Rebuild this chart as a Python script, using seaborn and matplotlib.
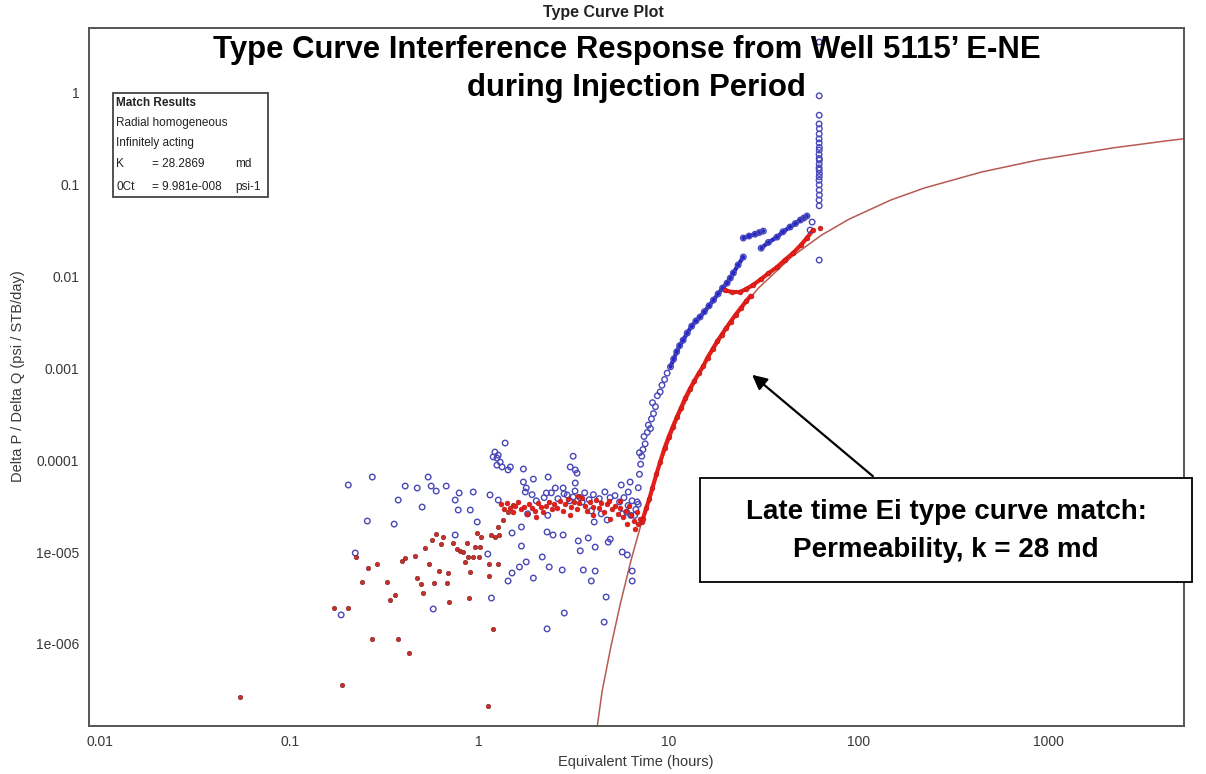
import matplotlib
matplotlib.use("Agg")
import matplotlib.pyplot as plt
from matplotlib.patches import Rectangle
import pandas as pd
import seaborn as sns

# ---------------------------------------------------------------- data
# Observed response, early scattered blue (open circles)
blue_early_t = [0.204, 0.273, 0.374, 0.407, 0.471, 0.538, 0.558, 0.593, 0.670, 0.500,
                0.257, 0.356, 0.222, 0.187, 0.572, 0.747, 0.784, 0.930, 0.775, 0.897,
                0.976, 1.14, 1.26, 0.747, 1.11]
blue_early_v = [5.35e-5, 6.53e-5, 3.67e-5, 5.21e-5, 4.96e-5, 6.53e-5, 5.21e-5, 4.6e-5, 5.21e-5, 3.08e-5,
                2.17e-5, 2.01e-5, 9.75e-6, 2.07e-6, 2.4e-6, 3.67e-5, 4.38e-5, 4.49e-5, 2.86e-5, 2.86e-5,
                2.12e-5, 4.17e-5, 3.67e-5, 1.53e-5, 9.5e-6]

# Blue points in the middle-time region
blue_mid_t = [1.37, 1.21, 1.26, 1.185, 1.24, 1.29, 1.24, 1.32, 1.42, 1.46,
              3.13, 3.02, 3.21, 3.28, 1.71, 1.93, 1.71, 1.77, 1.75, 2.31,
              2.26, 2.52, 2.77, 3.21, 2.91, 3.13, 3.49, 1.49, 1.67, 1.67,
              2.28, 2.45, 2.77, 3.33, 3.76, 4.09, 3.41, 2.15, 1.77, 1.63,
              1.49, 1.42, 1.93, 2.34, 2.74, 3.54, 4.09, 3.90, 1.16, 2.81,
              2.28, 4.67, 4.56, 6.41, 6.41, 4.91, 4.79, 5.68, 6.04, 4.04,
              4.73, 5.61, 6.25, 6.11,
              1.9, 2.0, 2.2, 2.4, 2.6, 2.8, 3.0, 3.2, 3.4, 3.6,
              3.8, 4.0, 4.3, 4.6, 4.9, 5.2, 5.5, 5.8, 6.1, 6.4,
              6.7, 6.9, 6.3, 6.0, 5.7, 4.4, 3.9, 2.3, 1.8]
blue_mid_v = [1.53e-4, 1.22e-4, 1.13e-4, 1.08e-4, 1.05e-4, 9.5e-5, 8.8e-5, 8.4e-5, 7.8e-5, 8.4e-5,
              1.1e-4, 8.4e-5, 7.8e-5, 7.2e-5, 7.98e-5, 6.2e-5, 5.76e-5, 4.96e-5, 4.49e-5, 6.53e-5,
              4.38e-5, 4.96e-5, 4.96e-5, 5.62e-5, 4.17e-5, 3.96e-5, 3.49e-5, 1.61e-5, 1.87e-5, 1.16e-5,
              1.65e-5, 1.53e-5, 1.53e-5, 1.32e-5, 1.42e-5, 1.13e-5, 1.03e-5, 8.83e-6, 7.8e-6, 6.87e-6,
              5.91e-6, 4.84e-6, 5.21e-6, 6.87e-6, 6.37e-6, 6.37e-6, 6.21e-6, 4.84e-6, 3.16e-6, 2.17e-6,
              1.46e-6, 3.24e-6, 1.73e-6, 6.21e-6, 4.84e-6, 1.38e-5, 1.28e-5, 1.0e-5, 9.3e-6, 2.12e-5,
              2.23e-5, 5.35e-5, 5.76e-5, 4.49e-5,
              4.2e-5, 3.6e-5, 3.9e-5, 4.4e-5, 3.8e-5, 4.3e-5, 3.6e-5, 4.6e-5, 3.9e-5, 4.4e-5,
              3.7e-5, 4.2e-5, 3.8e-5, 4.5e-5, 3.9e-5, 4.1e-5, 3.5e-5, 3.9e-5, 3.2e-5, 3.6e-5,
              2.9e-5, 3.3e-5, 2.5e-5, 2.7e-5, 2.6e-5, 2.6e-5, 2.8e-5, 2.5e-5, 2.6e-5]

# Blue build-up after the pressure front arrives
blue_rise_t = [6.6, 6.8, 6.9, 7.0, 7.1, 7.2, 7.3, 7.0, 7.5, 7.4,
               7.7, 7.8, 8.0, 8.1, 8.3, 8.5, 8.2, 8.7, 9.0, 9.2,
               9.5, 9.8, 10.2, 10.6, 11.0, 11.4, 11.9, 12.5, 13.2, 13.9,
               14.6, 15.4, 16.3, 17.2, 18.2, 19.2, 20.3, 21.1, 21.9, 23.2, 24.7]
blue_rise_v = [2.5e-5, 3.5e-5, 5e-5, 7e-5, 9e-5, 1.1e-4, 1.3e-4, 1.2e-4, 1.5e-4, 1.8e-4,
               2.0e-4, 2.4e-4, 2.2e-4, 2.8e-4, 3.2e-4, 3.8e-4, 4.2e-4, 5.0e-4, 5.5e-4, 6.5e-4,
               7.5e-4, 8.8e-4, 1.03e-3, 1.25e-3, 1.5e-3, 1.75e-3, 2.01e-3, 2.4e-3, 2.85e-3, 3.25e-3,
               3.58e-3, 4.1e-3, 4.75e-3, 5.48e-3, 6.4e-3, 7.4e-3, 8.4e-3, 9.5e-3, 0.0108, 0.0132, 0.0161]

# Short blue segments near the end of injection
blue_seg_a_t = [24.7, 26.5, 28.5, 30.0, 31.5]
blue_seg_a_v = [0.0259, 0.0272, 0.0285, 0.0297, 0.0308]
blue_seg_b_t = [30.7, 33.5, 37.2, 40.0, 43.6, 46.5, 49.4, 51.5, 53.5, 55.6, 57.0]
blue_seg_b_v = [0.0201, 0.0232, 0.0265, 0.0303, 0.0341, 0.0372, 0.0406, 0.0427, 0.0449, 0.0316, 0.0386]

# Blue column at shut-in
blue_col_t = [62.1, 62.1, 62.1, 62.0, 62.2, 62.1, 62.0, 62.1, 62.2, 62.1,
              62.0, 62.1, 62.2, 62.1, 62.0, 62.1, 62.2, 62.1, 62.0, 62.1,
              62.1, 62.2, 62.0, 62.1, 62.1]
blue_col_v = [3.5, 0.91, 0.56, 0.45, 0.40, 0.35, 0.31, 0.28, 0.25, 0.234,
              0.21, 0.19, 0.182, 0.165, 0.15, 0.142, 0.13, 0.12, 0.11, 0.098,
              0.086, 0.076, 0.067, 0.058, 0.0149]

# Red data (filled dots): early scatter
red_early_t = [0.225, 0.260, 0.290, 0.241, 0.327, 0.393, 0.407, 0.460, 0.519, 0.565,
               0.593, 0.631, 0.646, 0.545, 0.615, 0.686, 0.471, 0.494, 0.579, 0.678,
               0.340, 0.360, 0.507, 0.695, 0.172, 0.204, 0.273, 0.374, 0.428, 0.189,
               0.0549, 0.766, 0.794, 0.823, 0.729, 0.865, 0.952, 1.01, 0.976, 1.02,
               0.875, 0.93, 0.844, 0.897, 1.0, 1.13, 1.26, 1.13, 0.886, 1.185,
               1.115, 1.21, 1.26, 1.34, 1.41, 1.16, 1.27, 1.51]
red_early_v = [8.83e-6, 6.7e-6, 7.41e-6, 4.72e-6, 4.72e-6, 7.98e-6, 8.6e-6, 9.05e-6, 1.1e-5, 1.35e-5,
               1.57e-5, 1.22e-5, 1.46e-5, 7.41e-6, 6.21e-6, 5.91e-6, 5.21e-6, 4.49e-6, 4.6e-6, 4.6e-6,
               3.0e-6, 3.41e-6, 3.58e-6, 2.86e-6, 2.46e-6, 2.46e-6, 1.13e-6, 1.13e-6, 7.98e-7, 3.58e-7,
               2.65e-7, 1.08e-5, 1.03e-5, 1.0e-5, 1.25e-5, 1.25e-5, 1.13e-5, 1.13e-5, 1.61e-5, 1.46e-5,
               8.8e-6, 8.8e-6, 7.8e-6, 6.1e-6, 8.8e-6, 7.4e-6, 7.4e-6, 5.5e-6, 3.16e-6, 1.46e-6,
               2.12e-7, 1.46e-5, 1.87e-5, 2.23e-5, 2.72e-5, 1.53e-5, 1.53e-5, 3.24e-5]

# Red plateau band
red_plateau_t = [1.30, 1.35, 1.40, 1.45, 1.50, 1.55, 1.60, 1.66, 1.72, 1.78,
                 1.84, 1.90, 1.97, 2.04, 2.11, 2.18, 2.25, 2.33, 2.41, 2.49,
                 2.57, 2.66, 2.75, 2.85, 2.95, 3.05, 3.15, 3.26, 3.37, 3.48,
                 3.60, 3.72, 3.85, 3.98, 4.12, 4.26, 4.40, 4.55, 4.70, 4.86,
                 5.03, 5.20, 5.38, 5.56, 5.75, 5.94, 6.14, 6.35, 6.56, 6.78,
                 7.01, 7.25, 2.0, 3.0, 4.0, 4.9, 5.5, 6.0, 6.6, 6.9, 3.3]
red_plateau_v = [3.3e-5, 2.9e-5, 3.4e-5, 3.0e-5, 2.7e-5, 3.2e-5, 3.5e-5, 2.9e-5, 3.1e-5, 2.6e-5,
                 3.3e-5, 3.0e-5, 2.8e-5, 3.4e-5, 3.1e-5, 2.7e-5, 3.2e-5, 3.5e-5, 2.9e-5, 3.3e-5,
                 3.0e-5, 3.6e-5, 2.8e-5, 3.3e-5, 3.8e-5, 3.1e-5, 3.5e-5, 2.9e-5, 3.4e-5, 3.9e-5,
                 3.2e-5, 2.8e-5, 3.5e-5, 3.1e-5, 3.7e-5, 3.0e-5, 3.4e-5, 2.7e-5, 3.3e-5, 3.6e-5,
                 2.9e-5, 3.2e-5, 2.6e-5, 3.0e-5, 2.4e-5, 2.8e-5, 3.2e-5, 2.5e-5, 2.2e-5, 2.7e-5,
                 2.3e-5, 2.1e-5, 2.4e-5, 2.5e-5, 2.5e-5, 2.3e-5, 3.6e-5, 2.0e-5, 1.8e-5, 2.0e-5, 4.1e-5]

# Red late-time rise, lower branch and upper branch
red_rise_t = [7.3, 7.6, 7.9, 8.2, 8.6, 9.0, 9.5, 10.0, 10.5, 11.0,
              11.6, 12.2, 12.9, 13.6, 14.4, 15.2, 16.0, 17.0, 18.0, 19.0,
              20.0, 21.2, 22.5, 24.0, 25.5, 27.0]
red_rise_v = [2.3e-5, 3.0e-5, 3.8e-5, 5.0e-5, 7.0e-5, 9.5e-5, 1.35e-4, 1.8e-4, 2.3e-4, 2.9e-4,
              3.7e-4, 4.7e-4, 5.9e-4, 7.2e-4, 8.8e-4, 1.05e-3, 1.3e-3, 1.6e-3, 1.95e-3, 2.3e-3,
              2.7e-3, 3.2e-3, 3.8e-3, 4.5e-3, 5.3e-3, 6.1e-3]
red_upper_t = [19.8, 21.5, 23.7, 25.5, 27.8, 30.5, 33.5, 37.2, 41.0, 45.2, 49.5, 53.5, 57.6, 62.9]
red_upper_v = [7.0e-3, 6.7e-3, 6.7e-3, 7.2e-3, 8.0e-3, 9.2e-3, 0.0107, 0.0125, 0.0150, 0.0178, 0.0215, 0.0260, 0.0316, 0.0332]

# Line-source (Ei) type curve
curve_t = [4.2, 4.45, 4.94, 5.56, 6.36, 7.42, 8.9, 11.1, 14.8, 22.25,
           29.7, 44.5, 63.6, 89.0, 148.0, 222.5, 445.0, 890.0, 2225.0, 4450.0, 5235.0]
curve_v = [1.3e-7, 3.08e-7, 9.2e-7, 2.79e-6, 8.55e-6, 2.66e-5, 8.5e-5, 2.8e-4, 9.66e-4, 3.62e-3,
           7.4e-3, 0.0162, 0.0277, 0.0414, 0.067, 0.0905, 0.135, 0.183, 0.248, 0.299, 0.311]

x_ticks = [0.01, 0.1, 1, 10, 100, 1000]
x_tick_labels = ["0.01", "0.1", "1", "10", "100", "1000"]
y_ticks = [1e-6, 1e-5, 1e-4, 1e-3, 1e-2, 1e-1, 1]
y_tick_labels = ["1e-006", "1e-005", "0.0001", "0.001", "0.01", "0.1", "1"]

# ---------------------------------------------------------------- figure
sns.set_style("white")
plt.rcParams['font.family'] = ['Liberation Sans', 'DejaVu Sans']

W, H = 1206, 774
fig = plt.figure(figsize=(W / 100, H / 100), dpi=100)
fig.patch.set_facecolor("white")


def fx(px):
    return px / W


def fy(py):
    return 1 - py / H


ax = fig.add_axes([fx(89), fy(725.5), fx(1184 - 89), (725.5 - 28) / H])
ax.set_xscale("log")
ax.set_yscale("log")
ax.set_xlim(0.00875, 5212)
ax.set_ylim(1.3e-7, 4.97)

blue_c = "#2626c8"
blue_ring = "#4848b8"
red_c = "#e61e18"

# type curve
curve = pd.DataFrame({"t": curve_t, "v": curve_v})
sns.lineplot(data=curve, x="t", y="v", sort=False, ax=ax, color="#b65a52", lw=1.1, zorder=2)

# dense bands drawn as a thick trace beneath their markers
for tt, vv, col in [(blue_rise_t[22:], blue_rise_v[22:], blue_c),
                    (blue_seg_a_t, blue_seg_a_v, blue_c),
                    (blue_seg_b_t[:9], blue_seg_b_v[:9], blue_c),
                    (red_rise_t, red_rise_v, red_c),
                    (red_upper_t[:13], red_upper_v[:13], red_c)]:
    ax.plot(tt, vv, color=col, lw=3.0, solid_capstyle="round", zorder=3)

blue = pd.DataFrame({
    "t": blue_early_t + blue_mid_t + blue_rise_t + blue_seg_a_t + blue_seg_b_t + blue_col_t,
    "v": blue_early_v + blue_mid_v + blue_rise_v + blue_seg_a_v + blue_seg_b_v + blue_col_v,
})
red_scatter = pd.DataFrame({"t": red_early_t, "v": red_early_v})
red_dense = pd.DataFrame({
    "t": red_plateau_t + red_rise_t + red_upper_t,
    "v": red_plateau_v + red_rise_v + red_upper_v,
})

sns.scatterplot(data=blue, x="t", y="v", ax=ax, marker="o", s=16,
                facecolor="none", edgecolor=blue_ring, linewidth=1.0, zorder=4)
sns.scatterplot(data=red_scatter, x="t", y="v", ax=ax, marker="o", s=10,
                color="#c8302a", edgecolor="#8a2a2a", linewidth=0.5, zorder=5)
sns.scatterplot(data=red_dense, x="t", y="v", ax=ax, marker="o", s=12,
                color=red_c, edgecolor="#b01818", linewidth=0.4, zorder=5)

# axes styling
ax.set_xticks(x_ticks)
ax.set_xticklabels(x_tick_labels)
ax.set_yticks(y_ticks)
ax.set_yticklabels(y_tick_labels)
ax.minorticks_off()
ax.tick_params(axis="both", which="major", direction="out", length=4, width=1,
               color="#555555", labelcolor="#383838", labelsize=10, pad=3)
for sp in ax.spines.values():
    sp.set_color("#555555")
    sp.set_linewidth(1.4)
ax.set_xlabel("")
ax.set_ylabel("")

fig.text(fx(636), fy(762), "Equivalent Time (hours)", ha="center", va="center",
         fontsize=10.5, color="#383838")
fig.text(fx(18), fy(376), "Delta P / Delta Q (psi / STB/day)", ha="center", va="center",
         rotation=90, fontsize=10.5, color="#383838")

# titles
fig.text(fx(603), fy(13), "Type Curve Plot", ha="center", va="center",
         fontsize=11.5, fontweight="bold", color="#222222")
fig.text(fx(627), fy(50), "Type Curve Interference Response from Well 5115\u2019 E-NE",
         ha="center", va="center", fontsize=22.4, fontweight="bold", color="black")
fig.text(fx(636), fy(88), "during Injection Period",
         ha="center", va="center", fontsize=22.4, fontweight="bold", color="black")

# match results box
fig.add_artist(Rectangle((fx(113), fy(197)), fx(155), 104 / H, transform=fig.transFigure,
                         facecolor="white", edgecolor="#444444", lw=1.3, zorder=6))
info_kw = dict(ha="left", va="center", fontsize=8.5, color="#222222", zorder=7)
fig.text(fx(116), fy(103), "Match Results", fontweight="bold", **info_kw)
fig.text(fx(116), fy(123), "Radial homogeneous", **info_kw)
fig.text(fx(116), fy(143), "Infinitely acting", **info_kw)
fig.text(fx(116), fy(164), "K", **info_kw)
fig.text(fx(152), fy(164), "= 28.2869", **info_kw)
fig.text(fx(235), fy(164), "md", **info_kw)
fig.text(fx(116), fy(187), "0Ct", **info_kw)
fig.text(fx(152), fy(187), "= 9.981e-008", **info_kw)
fig.text(fx(235), fy(187), "psi-1", **info_kw)

# annotation box with arrow
fig.add_artist(Rectangle((fx(700), fy(582)), fx(492), 104 / H, transform=fig.transFigure,
                         facecolor="white", edgecolor="black", lw=1.3, zorder=6))
fig.text(fx(946), fy(512), "Late time Ei type curve match:", ha="center", va="center",
         fontsize=20, fontweight="bold", color="black", zorder=7)
fig.text(fx(946), fy(550), "Permeability, k = 28 md", ha="center", va="center",
         fontsize=20, fontweight="bold", color="black", zorder=7)
ax.annotate("", xy=(fx(750), fy(373)), xycoords="figure fraction",
            xytext=(fx(875), fy(478)), textcoords="figure fraction",
            arrowprops=dict(arrowstyle="-|>", color="black", lw=1.6, mutation_scale=22))

fig.savefig("out.png", dpi=100, facecolor="white")
